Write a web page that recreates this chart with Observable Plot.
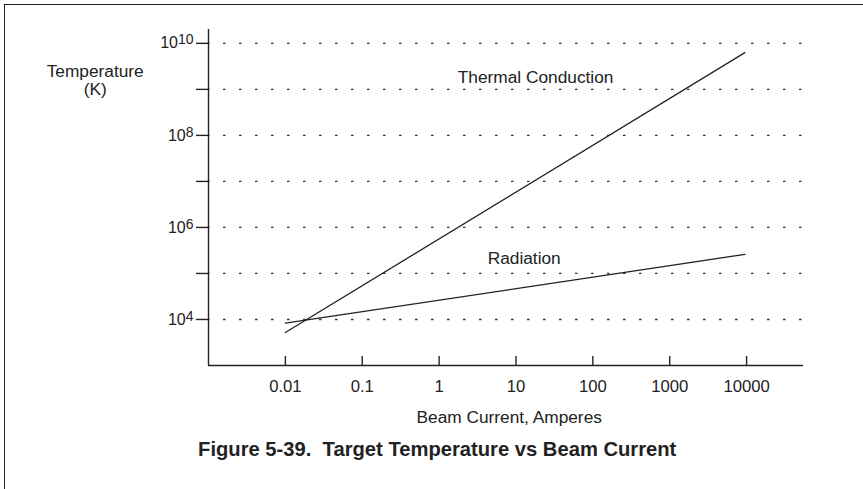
<!DOCTYPE html>
<html><head><meta charset="utf-8">
<script src="https://cdn.jsdelivr.net/npm/d3@7"></script>
<script src="https://cdn.jsdelivr.net/npm/@observablehq/plot@0.6"></script>
<style>
html,body{margin:0;padding:0;background:#fff;}
#wrap{position:relative;width:863px;height:489px;overflow:hidden;}
#wrap svg{position:absolute;left:0;top:0;}
#border{position:absolute;left:4px;top:4px;right:-10px;bottom:-10px;border-top:1.5px solid #222;border-left:1.5px solid #222;pointer-events:none;}
svg text{white-space:pre;}
</style></head><body><div id="wrap"></div>
<script>
// Data
const currents = [0.01, 9500];
const thermalConduction = [5200, 6.3e9];
const radiation = [8300, 2.6e5];
const seriesNames = ["Thermal Conduction", "Radiation"];
const labelCurrents = [18, 12.8];
const labelTemps = [1.85e9, 2.1e5];
const xTicks = [0.01, 0.1, 1, 10, 100, 1000, 10000];
const xTickLabels = ["0.01", "0.1", "1", "10", "100", "1000", "10000"];
const yTicks = [1e4, 1e5, 1e6, 1e7, 1e8, 1e9, 1e10];
const yTickLabels = ["10^4", "", "10^6", "", "10^8", "", "10^10"];
const xDomain = [0.001, 55000];
const yDomain = [1e3, 2e10];

const rows = [];
currents.forEach((c, i) => rows.push({series: seriesNames[0], current: c, temp: thermalConduction[i]}));
currents.forEach((c, i) => rows.push({series: seriesNames[1], current: c, temp: radiation[i]}));
const labels = seriesNames.map((s, i) => ({name: s, current: labelCurrents[i], temp: labelTemps[i]}));

const lookup = (ticks, labs) => d => {
  let best = 0, bd = Infinity;
  ticks.forEach((t, i) => { const e = Math.abs(Math.log10(t) - Math.log10(d)); if (e < bd) { bd = e; best = i; } });
  return labs[best];
};

const ink = "#222";
const svg = Plot.plot({
  width: 863,
  height: 489,
  marginLeft: 208,
  marginRight: 60,
  marginTop: 29,
  marginBottom: 124,
  style: {fontFamily: "'Liberation Sans', Arial, Helvetica, sans-serif", fontSize: "16px", color: ink, background: "transparent"},
  x: {type: "log", domain: xDomain},
  y: {type: "log", domain: yDomain},
  marks: [
    Plot.ruleY(yTicks, {y: d => d, stroke: "#333", strokeWidth: 1.3, strokeDasharray: "2.5,13.5", strokeDashoffset: 1}),
    Plot.ruleX([xDomain[0]], {stroke: ink, strokeWidth: 1.4}),
    Plot.ruleY([yDomain[0]], {stroke: ink, strokeWidth: 1.4}),
    Plot.axisY({ticks: yTicks, tickSize: 12, tickPadding: 3, fontSize: 16, strokeWidth: 1.4, stroke: ink, fill: ink,
      tickFormat: lookup(yTicks, yTickLabels), label: null}),
    Plot.tickX(xTicks, {x: d => d, insetTop: 327, stroke: ink, strokeWidth: 1.4}),
    Plot.axisX({ticks: xTicks, tickSize: 0, tickPadding: 15, fontSize: 16.7, fill: ink,
      tickFormat: lookup(xTicks, xTickLabels), label: null}),
    Plot.line(rows, {x: "current", y: "temp", z: "series", stroke: ink, strokeWidth: 1.3}),
    Plot.text(labels, {x: "current", y: "temp", text: "name", fontSize: 17.3, fill: ink}),
    Plot.text(["Temperature\n(K)"], {frameAnchor: "top-left", textAnchor: "middle", lineAnchor: "middle", dx: -113.3, dy: 50.7, text: d => d, fontSize: 17.3, lineHeight: 1.05, fill: ink}),
    Plot.text(["Beam Current, Amperes"], {frameAnchor: "bottom", lineAnchor: "middle", dx: 3.2, dy: 52.3, text: d => d, fontSize: 17.3, fill: ink}),
    Plot.text(["Figure 5-39.  Target Temperature vs Beam Current"], {frameAnchor: "bottom", lineAnchor: "middle", dx: -68.8, dy: 84.3, text: d => d, fontSize: 20.2, fontWeight: "bold", fill: ink})
  ]
});

// superscript exponents on y tick labels
d3.select(svg).selectAll("text").each(function() {
  const t = d3.select(this);
  if (!t.select("tspan").empty()) return;
  const s = t.text();
  if (!/^10\^\d+$/.test(s)) return;
  const [base, exp] = s.split("^");
  t.text(base);
  t.append("tspan").attr("dy", -4).attr("font-size", 14).text(exp);
});

const wrap = document.getElementById("wrap");
wrap.appendChild(svg);
const border = document.createElement("div");
border.id = "border";
wrap.appendChild(border);
</script>
</body></html>
